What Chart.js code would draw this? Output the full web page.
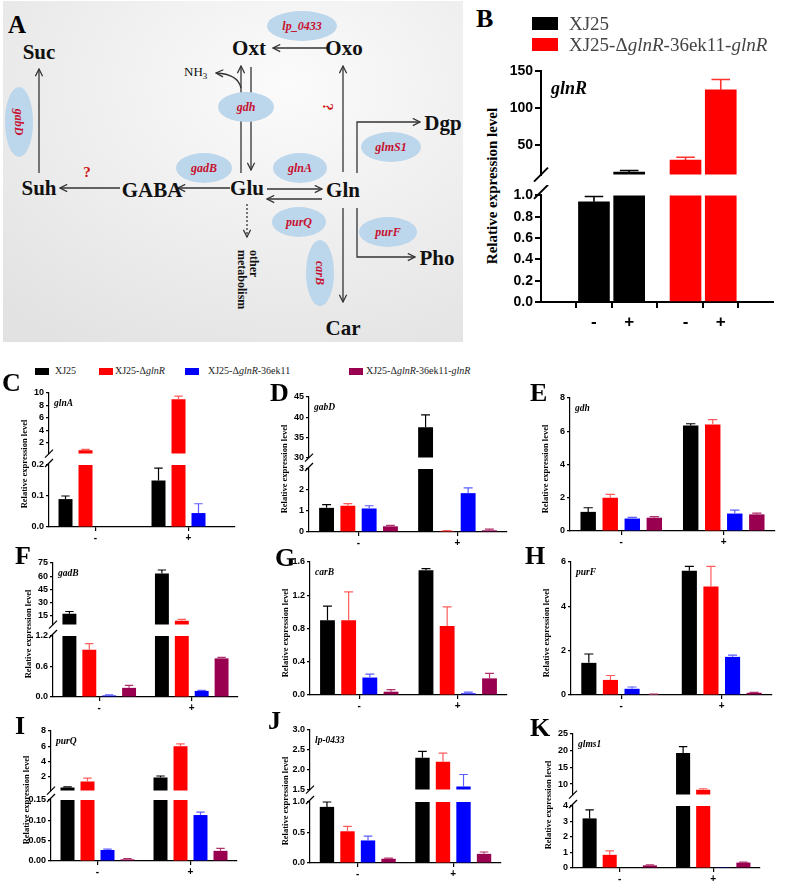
<!DOCTYPE html>
<html>
<head>
<meta charset="utf-8">
<script src="https://cdn.jsdelivr.net/npm/chart.js@4.4.0/dist/chart.umd.min.js"></script>
<style>
body { margin: 0; width: 786px; height: 886px; position: relative; overflow: hidden; background: #fff; font-family: "Liberation Serif", serif; }
canvas { position: absolute; }
.t { position: absolute; white-space: nowrap; line-height: 1; }
.letter { font: bold 26px "Liberation Serif", serif; color: #000; }
.ytitle { font: bold 8.5px "Liberation Serif", serif; transform: translate(-50%, -50%) rotate(-90deg); }
.gene { font: italic bold 9.5px "Liberation Serif", serif; }
.box { position: absolute; }
</style>
</head>
<body>

<svg width="470" height="346" style="position:absolute;left:0;top:0" font-family="Liberation Serif, serif">
  <defs>
    <radialGradient id="bg" cx="0.62" cy="0.25" r="0.9">
      <stop offset="0" stop-color="#fbfbfb"/>
      <stop offset="1" stop-color="#e2e2e2"/>
    </radialGradient>
    <marker id="ah" viewBox="0 0 10 10" refX="9" refY="5" markerWidth="9" markerHeight="9" orient="auto" markerUnits="userSpaceOnUse">
      <path d="M1,1 L9,5 L1,9" fill="none" stroke="#333" stroke-width="1.4"/>
    </marker>
  </defs>
  <rect x="3" y="1" width="460" height="341" fill="url(#bg)"/>
  <g stroke="#333" stroke-width="1.3" fill="none" marker-end="url(#ah)">
    <line x1="327" y1="48" x2="273" y2="48"/>
    <path d="M241,88 Q238,74 216,73"/>
    <line x1="241" y1="173" x2="241" y2="66"/>
    <line x1="251" y1="67" x2="251" y2="170"/>
    <line x1="39" y1="173" x2="39" y2="69"/>
    <line x1="120" y1="188" x2="60" y2="188"/>
    <line x1="230" y1="188" x2="178" y2="188"/>
    <line x1="267" y1="189" x2="322" y2="189"/>
    <line x1="322" y1="199" x2="267" y2="199"/>
    <line x1="343" y1="172" x2="343" y2="66"/>
    <polyline points="357,173 357,122 420,122"/>
    <polyline points="357,208 357,257 415,257"/>
    <line x1="343" y1="208" x2="343" y2="302"/>
    <line x1="247" y1="204" x2="247" y2="237" stroke-dasharray="2,2"/>
  </g>
  <g fill="#bcd6ec">
    <ellipse cx="302" cy="26" rx="35" ry="15"/>
    <ellipse cx="246" cy="107" rx="28" ry="15"/>
    <ellipse cx="19" cy="122" rx="14" ry="35"/>
    <ellipse cx="204" cy="168" rx="28" ry="15"/>
    <ellipse cx="300" cy="168" rx="27" ry="15"/>
    <ellipse cx="391" cy="147" rx="30" ry="15"/>
    <ellipse cx="299" cy="222" rx="27" ry="15"/>
    <ellipse cx="388" cy="232" rx="29" ry="15"/>
    <ellipse cx="320" cy="273" rx="14" ry="33"/>
  </g>
  <g fill="#c8102e" font-style="italic" font-weight="bold" font-size="12" text-anchor="middle">
    <text x="302" y="30">lp_0433</text>
    <text x="246" y="111">gdh</text>
    <text transform="translate(19,122) rotate(90)" y="4">gabD</text>
    <text x="204" y="172">gadB</text>
    <text x="300" y="172">glnA</text>
    <text x="391" y="151">glmS1</text>
    <text x="299" y="226">purQ</text>
    <text x="388" y="236">purF</text>
    <text transform="translate(320,273) rotate(90)" y="4">carB</text>
  </g>
  <g fill="#d01010" font-weight="bold" font-size="15" text-anchor="middle">
    <text x="87" y="177">?</text>
    <text transform="translate(328,107) rotate(90)" y="5">?</text>
  </g>
  <g fill="#111" font-weight="bold" font-size="21" text-anchor="middle">
    <text x="39" y="59">Suc</text>
    <text x="249" y="55">Oxt</text>
    <text x="344" y="55">Oxo</text>
    <text x="39" y="195">Suh</text>
    <text x="152" y="197">GABA</text>
    <text x="247" y="195">Glu</text>
    <text x="343" y="197">Gln</text>
    <text x="443" y="130">Dgp</text>
    <text x="437" y="265">Pho</text>
    <text x="343" y="335">Car</text>
  </g>
  <text x="184" y="76" font-size="13" fill="#111">NH<tspan font-size="9" dy="3">3</tspan></text>
  <g fill="#111" font-weight="bold" font-size="12">
    <text transform="translate(250,250) rotate(90)">other</text>
    <text transform="translate(238,250) rotate(90)">metabolism</text>
  </g>
  <text x="8" y="33" font-weight="bold" font-size="25" fill="#000">A</text>
</svg>

<script>
// ---------- data ----------
var groups = ['-', '+'];
var strains = ['XJ25', 'XJ25-\u0394glnR', 'XJ25-\u0394glnR-36ek11', 'XJ25-\u0394glnR-36ek11-glnR'];
var strainColors = ['#000000', '#ff0000', '#0000ff', '#990050'];
var errColors = ['#000000', '#ff5c5c', '#5c5cff', '#b0306a'];

// panel B (glnR)
var bLabels = ['-', '+', '-', '+'];
var bStrains = ['XJ25', 'XJ25-\u0394glnR-36ek11-glnR'];
var bMean = [0.94, 14, 30, 125];
var bErr = [0.05, 2, 4, 14];
var bTicksHi = ['50', '100', '150'];
var bTicksLo = ['0.0', '0.2', '0.4', '0.6', '0.8', '1.0'];

// rows: strains, columns: '-' / '+'
var glnAMean = [[0.09, 0.15], [0.75, 9.0], [0, 0.045], [0, 0]];
var glnAErr = [[0.01, 0.04], [0.12, 0.5], [0, 0.03], [0, 0]];
var glnATicksHi = ['2', '4', '6', '8', '10'];
var glnATicksLo = ['0.0', '0.1', '0.2'];

var gabDMean = [[1.15, 37.5], [1.25, 0.05], [1.12, 1.85], [0.27, 0.08]];
var gabDErr = [[0.15, 3.1], [0.1, 0.02], [0.13, 0.25], [0.05, 0.06]];
var gabDTicksHi = ['30', '35', '40', '45'];
var gabDTicksLo = ['0', '1', '2', '3'];

var gdhMean = [[1.15, 6.35], [2.0, 6.4], [0.75, 1.05], [0.8, 1.0]];
var gdhErr = [[0.25, 0.1], [0.2, 0.3], [0.07, 0.2], [0.07, 0.08]];
var gdhTicks = ['0', '2', '4', '6', '8'];

var gadBMean = [[17, 63], [0.93, 9], [0.03, 0.12], [0.18, 0.76]];
var gadBErr = [[2.5, 4], [0.12, 1.5], [0.01, 0.01], [0.05, 0.02]];
var gadBTicksHi = ['15', '30', '45', '60', '75'];
var gadBTicksLo = ['0.0', '0.6', '1.2'];

var carBMean = [[0.9, 1.5], [0.9, 0.83], [0.21, 0.02], [0.04, 0.2]];
var carBErr = [[0.17, 0.02], [0.34, 0.23], [0.04, 0.015], [0.025, 0.06]];
var carBTicks = ['0.0', '0.4', '0.8', '1.2', '1.6'];

var purFMean = [[1.45, 5.6], [0.68, 4.9], [0.28, 1.72], [0.03, 0.1]];
var purFErr = [[0.4, 0.2], [0.2, 0.9], [0.08, 0.08], [0.01, 0.02]];
var purFTicks = ['0', '2', '4', '6'];

var purQMean = [[0.55, 1.87], [1.35, 6.0], [0.027, 0.113], [0.004, 0.025]];
var purQErr = [[0.1, 0.2], [0.45, 0.3], [0.002, 0.007], [0.002, 0.006]];
var purQTicksHi = ['2', '4', '6', '8'];
var purQTicksLo = ['0.00', '0.05', '0.10', '0.15'];

var lpMean = [[0.92, 2.3], [0.52, 2.2], [0.37, 1.58], [0.07, 0.15]];
var lpErr = [[0.08, 0.16], [0.08, 0.22], [0.07, 0.3], [0.01, 0.03]];
var lpTicksHi = ['1.5', '2.0', '2.5', '3.0'];
var lpTicksLo = ['0.0', '0.5', '1.0'];

var glmsMean = [[3.2, 19.3], [0.85, 8.3], [0, 0.02], [0.17, 0.35]];
var glmsErr = [[0.55, 1.9], [0.25, 0.3], [0, 0], [0.03, 0.03]];
var glmsTicksHi = ['10', '15', '20', '25'];
var glmsTicksLo = ['0', '1', '2', '3', '4'];

// ---------- plugins ----------
Chart.register({
  id: 'errbars',
  afterDatasetsDraw: function(chart) {
    var ctx = chart.ctx, a = chart.chartArea, ys = chart.scales.y;
    ctx.save();
    ctx.beginPath();
    ctx.rect(a.left, a.top - 1, a.right - a.left, a.bottom - a.top + 1);
    ctx.clip();
    chart.data.datasets.forEach(function(ds, i) {
      var meta = chart.getDatasetMeta(i);
      meta.data.forEach(function(el, j) {
        var e = ds.errs[j];
        if (!e) return;
        var v = typeof ds.data[j] === 'object' ? ds.data[j].y : ds.data[j];
        if (v <= ys.min) return;
        var y1 = ys.getPixelForValue(v), y2 = ys.getPixelForValue(v + e);
        var half = el.width * 0.3;
        ctx.strokeStyle = Array.isArray(ds.errColor) ? ds.errColor[j] : ds.errColor;
        ctx.lineWidth = ds.errWidth || 1.2;
        ctx.beginPath();
        ctx.moveTo(el.x, y1); ctx.lineTo(el.x, y2);
        ctx.moveTo(el.x - half, y2); ctx.lineTo(el.x + half, y2);
        ctx.stroke();
      });
    });
    ctx.restore();
  }
});

Chart.register({
  id: 'brk',
  afterDraw: function(chart, args, o) {
    if (!o.pos) return;
    var a = chart.chartArea, ctx = chart.ctx, s = o.size || 4;
    var y = o.pos === 'top' ? a.top - s * 0.5 : a.bottom;
    ctx.save();
    ctx.strokeStyle = '#000';
    ctx.lineWidth = o.lw || 1.2;
    ctx.beginPath();
    ctx.moveTo(a.left - s, y + s);
    ctx.lineTo(a.left + s, y - s);
    ctx.stroke();
    ctx.restore();
  }
});

// ---------- helpers ----------
function text(html, x, y, cls, css) {
  var d = document.createElement('div');
  d.className = 't ' + (cls || '');
  d.innerHTML = html;
  d.style.left = x + 'px';
  d.style.top = y + 'px';
  if (css) d.style.cssText += css;
  document.body.appendChild(d);
  return d;
}

function makeCanvas(left, top, w, h) {
  var c = document.createElement('canvas');
  c.width = w; c.height = h;
  c.style.left = left + 'px'; c.style.top = top + 'px';
  c.style.width = w + 'px'; c.style.height = h + 'px';
  document.body.appendChild(c);
  return c;
}

function yScale(seg, yW, font, tickLen, lw) {
  return {
    min: seg.min, max: seg.max,
    afterBuildTicks: function(s) { s.ticks = seg.ticks.map(function(t) { return { value: +t }; }); },
    afterFit: function(s) { s.width = yW; },
    ticks: { callback: function(v, i) { return seg.ticks[i]; }, font: font, color: '#000', padding: 2, autoSkip: false },
    grid: { drawOnChartArea: false, tickLength: tickLen, color: '#000', lineWidth: lw },
    border: { color: '#000', width: lw }
  };
}

// small panel C..K
function smallPanel(p) {
  var yW = 30, padT = 8;
  var tickFont = { family: 'Liberation Sans', weight: 'bold', size: 9 };
  p.segs.forEach(function(seg, k) {
    var last = k === p.segs.length - 1;
    var xH = last ? 22 : 0, padB = last ? 0 : 6;
    var w = p.xr - p.x + yW + 6, h = seg.bottom - seg.top + padT + xH + padB;
    var c = makeCanvas(p.x - yW, seg.top - padT, w, h);
    var brk = p.segs.length > 1 ? (last ? 'top' : 'bottom') : null;
    new Chart(c, {
      type: 'bar',
      data: {
        labels: groups,
        datasets: strains.map(function(s, i) {
          return { label: s, data: p.mean[i], errs: p.err[i], backgroundColor: strainColors[i],
                   errColor: errColors[i], borderWidth: 0, clip: 0,
                   categoryPercentage: 0.86, barPercentage: 0.7 };
        })
      },
      options: {
        responsive: false, animation: false, devicePixelRatio: 1,
        layout: { padding: { top: padT, right: 6, bottom: padB, left: 0 } },
        plugins: { legend: { display: false }, tooltip: { enabled: false }, brk: { pos: brk, size: 4 } },
        scales: {
          x: {
            display: last,
            afterFit: function(s) { s.height = xH; },
            ticks: { font: { family: 'Liberation Sans', weight: 'bold', size: 10 }, color: '#000', padding: 1 },
            grid: { drawOnChartArea: false, offset: false, tickLength: 4, color: '#000', lineWidth: 1.2 },
            border: { color: '#000', width: 1.2 }
          },
          y: yScale(seg, yW, tickFont, 3, 1.2)
        }
      }
    });
  });
  var top = p.segs[0].top, bot = p.segs[p.segs.length - 1].bottom;
  text('Relative expression level', p.x - 25, (top + bot) / 2 + 4, 'ytitle');
  text(p.gene, p.x + 5, top + 5, 'gene');
  text(p.letter, p.lx, p.ly, 'letter');
}

// ---------- panel B ----------
(function() {
  var yW = 40, padT = 10, xL = 541, xR = 773;
  var pos = bMean.map(function(v, i) { return i + (i >= 2 ? 0.6 : 0); });
  var segs = [
    { top: 71, bottom: 177, min: 10.5, max: 150, ticks: bTicksHi },
    { top: 195, bottom: 302, min: 0, max: 1.0, ticks: bTicksLo }
  ];
  var colors = pos.map(function(v, i) { return i < 2 ? strainColors[0] : strainColors[1]; });
  var ecolors = pos.map(function(v, i) { return i < 2 ? '#000000' : '#ff3030'; });
  var tickFont = { family: 'Liberation Sans', weight: 'bold', size: 14 };
  segs.forEach(function(seg, k) {
    var last = k === 1;
    var xH = last ? 34 : 0, padB = last ? 0 : 8;
    var w = xR - xL + yW + 8, h = seg.bottom - seg.top + padT + xH + padB;
    var c = makeCanvas(xL - yW, seg.top - padT, w, h);
    new Chart(c, {
      type: 'bar',
      data: {
        datasets: [{
          label: 'glnR',
          data: bMean.map(function(v, i) { return { x: pos[i], y: v }; }),
          errs: bErr, backgroundColor: colors, errColor: ecolors, errWidth: 1.6,
          borderWidth: 0, clip: 0, barThickness: 31
        }]
      },
      options: {
        responsive: false, animation: false, devicePixelRatio: 1,
        layout: { padding: { top: padT, right: 8, bottom: padB, left: 0 } },
        plugins: { legend: { display: false }, tooltip: { enabled: false }, brk: { pos: last ? 'top' : 'bottom', size: 7, lw: 2 } },
        scales: {
          x: {
            type: 'linear', display: last, min: -0.68, max: 4.26,
            afterBuildTicks: function(s) { s.ticks = pos.map(function(v) { return { value: v }; }); },
            afterFit: function(s) { s.height = xH; },
            ticks: { callback: function(v, i) { return bLabels[i]; }, font: { family: 'Liberation Sans', weight: 'bold', size: 17 }, color: '#000', padding: 4, autoSkip: false },
            grid: { drawOnChartArea: false, tickLength: 6, color: '#000', lineWidth: 2 },
            border: { color: '#000', width: 2 }
          },
          y: yScale(seg, yW, tickFont, 6, 2)
        }
      }
    });
  });
  text('B', 476, 4, 'letter');
  text('Relative expression level', 492, 186, 'ytitle', 'font-size:15px;');
  text('glnR', 551, 78, 'gene', 'font-size:18px;');
  var lg = [[bStrains[0], 17], ['XJ25-\u0394<i>glnR</i>-36ek11-<i>glnR</i>', 38]];
  lg.forEach(function(l, i) {
    var b = document.createElement('div');
    b.className = 'box';
    b.style.cssText = 'left:532px;top:' + l[1] + 'px;width:26px;height:13px;background:' + strainColors[i];
    document.body.appendChild(b);
    text(l[0], 569, l[1] - 3, '', 'font-size:19px;color:#444;');
  });
})();

// ---------- legend for C-K ----------
var lgItems = [
  ['XJ25', 35, 55],
  ['XJ25-\u0394<i>glnR</i>', 99, 115],
  ['XJ25-\u0394<i>glnR</i>-36ek11', 185, 208],
  ['XJ25-\u0394<i>glnR</i>-36ek11-<i>glnR</i>', 349, 366]
];
lgItems.forEach(function(l, i) {
  var b = document.createElement('div');
  b.className = 'box';
  b.style.cssText = 'left:' + l[1] + 'px;top:368px;width:14px;height:7px;background:' + strainColors[i];
  document.body.appendChild(b);
  text(l[0], l[2], 366, '', 'font-size:10px;color:#222;');
});

// ---------- panels C-K ----------
smallPanel({ letter: 'C', lx: 2, ly: 368, gene: 'glnA', x: 49, xr: 235, mean: glnAMean, err: glnAErr,
  segs: [{ top: 393, bottom: 455, min: 0.2, max: 10, ticks: glnATicksHi }, { top: 465, bottom: 527, min: 0, max: 0.2, ticks: glnATicksLo }] });
smallPanel({ letter: 'D', lx: 270, ly: 378, gene: 'gabD', x: 309, xr: 507, mean: gabDMean, err: gabDErr,
  segs: [{ top: 397, bottom: 459, min: 30, max: 45, ticks: gabDTicksHi }, { top: 469, bottom: 532, min: 0, max: 3, ticks: gabDTicksLo }] });
smallPanel({ letter: 'E', lx: 530, ly: 378, gene: 'gdh', x: 570, xr: 775, mean: gdhMean, err: gdhErr,
  segs: [{ top: 398, bottom: 531, min: 0, max: 8, ticks: gdhTicks }] });
smallPanel({ letter: 'F', lx: 15, ly: 541, gene: 'gadB', x: 53, xr: 238, mean: gadBMean, err: gadBErr,
  segs: [{ top: 563, bottom: 626, min: 4.5, max: 75, ticks: gadBTicksHi }, { top: 636, bottom: 697, min: 0, max: 1.2, ticks: gadBTicksLo }] });
smallPanel({ letter: 'G', lx: 275, ly: 543, gene: 'carB', x: 310, xr: 507, mean: carBMean, err: carBErr,
  segs: [{ top: 562, bottom: 695, min: 0, max: 1.6, ticks: carBTicks }] });
smallPanel({ letter: 'H', lx: 525, ly: 541, gene: 'purF', x: 571, xr: 772, mean: purFMean, err: purFErr,
  segs: [{ top: 562, bottom: 695, min: 0, max: 6, ticks: purFTicks }] });
smallPanel({ letter: 'I', lx: 15, ly: 711, gene: 'purQ', x: 51, xr: 237, mean: purQMean, err: purQErr,
  segs: [{ top: 731, bottom: 792, min: 0.15, max: 8, ticks: purQTicksHi }, { top: 800, bottom: 861, min: 0, max: 0.15, ticks: purQTicksLo }] });
smallPanel({ letter: 'J', lx: 268, ly: 706, gene: 'lp-0433', x: 310, xr: 501, mean: lpMean, err: lpErr,
  segs: [{ top: 730, bottom: 791, min: 1.5, max: 3, ticks: lpTicksHi }, { top: 802, bottom: 863, min: 0, max: 1, ticks: lpTicksLo }] });
smallPanel({ letter: 'K', lx: 530, ly: 713, gene: 'glms1', x: 573, xr: 760, mean: glmsMean, err: glmsErr,
  segs: [{ top: 734, bottom: 796, min: 6.85, max: 25, ticks: glmsTicksHi }, { top: 806, bottom: 868, min: 0, max: 4, ticks: glmsTicksLo }] });
</script>
</body>
</html>
